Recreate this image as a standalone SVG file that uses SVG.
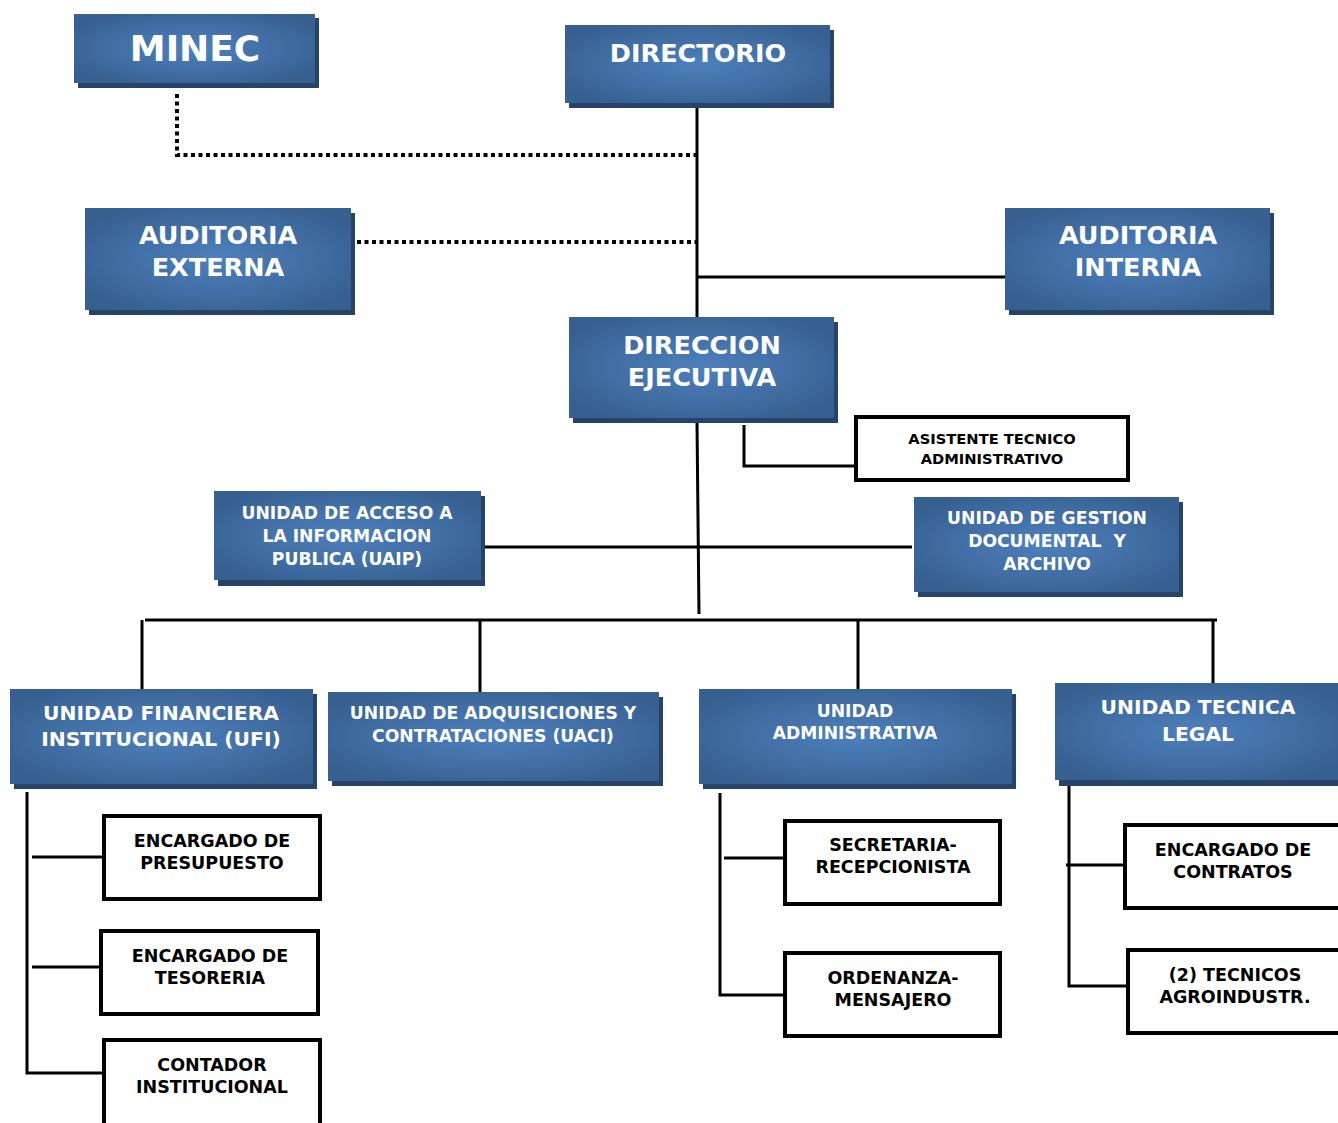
<svg xmlns="http://www.w3.org/2000/svg" width="1338" height="1123" viewBox="0 0 1338 1123">
<defs>
<radialGradient id="bg" cx="0.5" cy="0.5" r="0.6">
<stop offset="0" stop-color="#4e80bc"/>
<stop offset="0.7" stop-color="#3e6a9e"/>
<stop offset="1" stop-color="#375f90"/>
</radialGradient>
<style>
.sh{fill:#26436a}
.bx{fill:url(#bg)}
.wt{fill:#fff;font-family:"DejaVu Sans",Verdana,sans-serif;font-weight:bold;text-anchor:middle}
.bk{fill:#000;font-family:"DejaVu Sans",Verdana,sans-serif;font-weight:bold;text-anchor:middle}
.wb{fill:#fff;stroke:#000;stroke-width:4}
.ln{stroke:#000;stroke-width:3;fill:none}
.dt{stroke:#000;stroke-width:4;fill:none;stroke-dasharray:4 3.5}
</style>
</defs>
<rect width="1338" height="1123" fill="#fff"/>
<g id="connectors">
<path class="dt" d="M177 94 V155 H696"/>
<path class="dt" d="M357 242 H696"/>
<path class="ln" d="M697 108 V317"/>
<path class="ln" d="M697 277 H1005"/>
<path class="ln" d="M697 422 L699 614"/>
<path class="ln" d="M744 425 V466 H856"/>
<path class="ln" d="M481 547 H912"/>
<path class="ln" d="M145 620 H1217"/>
<path class="ln" d="M142 620 V689 M480 620 V692 M858 620 V689 M1213 620 V683"/>
<path class="ln" d="M27 792 V1073 H104 M32 857 H104 M32 967 H101"/>
<path class="ln" d="M720 793 V995 H790 M724 858 H785"/>
<path class="ln" d="M1069 786 V986 H1128 M1066 865 H1125"/>
</g>
<g id="minec">
<rect class="sh" x="78" y="18" width="241" height="70"/>
<rect class="bx" x="74" y="14" width="241" height="69"/>
<text class="wt" x="195" y="61" font-size="36">MINEC</text>
</g>
<g id="directorio">
<rect class="sh" x="569" y="30" width="265" height="78"/>
<rect class="bx" x="565" y="25" width="265" height="78"/>
<text class="wt" x="698" y="62" font-size="25.5">DIRECTORIO</text>
</g>
<g id="auditoria-externa">
<rect class="sh" x="89" y="213" width="266" height="102"/>
<rect class="bx" x="85" y="208" width="266" height="102"/>
<text class="wt" x="218" y="244" font-size="25.5">AUDITORIA</text>
<text class="wt" x="218" y="276" font-size="25.5">EXTERNA</text>
</g>
<g id="auditoria-interna">
<rect class="sh" x="1009" y="213" width="265" height="102"/>
<rect class="bx" x="1005" y="208" width="265" height="102"/>
<text class="wt" x="1138" y="244" font-size="25.5">AUDITORIA</text>
<text class="wt" x="1138" y="276" font-size="25.5">INTERNA</text>
</g>
<g id="direccion-ejecutiva">
<rect class="sh" x="573" y="322" width="265" height="101"/>
<rect class="bx" x="569" y="317" width="265" height="101"/>
<text class="wt" x="702" y="354" font-size="25.5">DIRECCION</text>
<text class="wt" x="702" y="386" font-size="25.5">EJECUTIVA</text>
</g>
<g id="asistente">
<rect class="wb" x="856" y="417" width="272" height="63" stroke-width="3.5"/>
<text class="bk" x="992" y="444" font-size="14.7">ASISTENTE TECNICO</text>
<text class="bk" x="992" y="464" font-size="14.7">ADMINISTRATIVO</text>
</g>
<g id="uaip">
<rect class="sh" x="218" y="496" width="267" height="90"/>
<rect class="bx" x="214" y="491" width="267" height="89"/>
<text class="wt" x="347" y="519" font-size="17.2">UNIDAD DE ACCESO A</text>
<text class="wt" x="347" y="542" font-size="17.2">LA INFORMACION</text>
<text class="wt" x="347" y="565" font-size="17.2">PUBLICA (UAIP)</text>
</g>
<g id="ugda">
<rect class="sh" x="918" y="502" width="265" height="95"/>
<rect class="bx" x="914" y="497" width="265" height="95"/>
<text class="wt" x="1047" y="524" font-size="17.2">UNIDAD DE GESTION</text>
<text class="wt" x="1047" y="547" font-size="17.2" xml:space="preserve">DOCUMENTAL  Y</text>
<text class="wt" x="1047" y="570" font-size="17.2">ARCHIVO</text>
</g>
<g id="ufi">
<rect class="sh" x="14" y="694" width="303" height="95"/>
<rect class="bx" x="10" y="689" width="303" height="95"/>
<text class="wt" x="161" y="720" font-size="20.3">UNIDAD FINANCIERA</text>
<text class="wt" x="161" y="746" font-size="20.3">INSTITUCIONAL (UFI)</text>
</g>
<g id="uaci">
<rect class="sh" x="332" y="697" width="331" height="89"/>
<rect class="bx" x="328" y="692" width="331" height="89"/>
<text class="wt" x="493" y="719" font-size="17.2">UNIDAD DE ADQUISICIONES Y</text>
<text class="wt" x="493" y="742" font-size="17.2">CONTRATACIONES (UACI)</text>
</g>
<g id="uadmin">
<rect class="sh" x="703" y="694" width="313" height="95"/>
<rect class="bx" x="699" y="689" width="313" height="95"/>
<text class="wt" x="855" y="717" font-size="17.2">UNIDAD</text>
<text class="wt" x="855" y="739" font-size="17.2">ADMINISTRATIVA</text>
</g>
<g id="utl">
<rect class="sh" x="1059" y="688" width="283" height="98"/>
<rect class="bx" x="1055" y="683" width="283" height="97"/>
<text class="wt" x="1198" y="714" font-size="20.3">UNIDAD TECNICA</text>
<text class="wt" x="1198" y="741" font-size="20.3">LEGAL</text>
</g>
<g id="presupuesto">
<rect class="wb" x="104" y="816" width="216" height="83"/>
<text class="bk" x="212" y="847" font-size="17.5">ENCARGADO DE</text>
<text class="bk" x="212" y="869" font-size="17.5">PRESUPUESTO</text>
</g>
<g id="tesoreria">
<rect class="wb" x="101" y="931" width="217" height="83"/>
<text class="bk" x="210" y="962" font-size="17.5">ENCARGADO DE</text>
<text class="bk" x="210" y="984" font-size="17.5">TESORERIA</text>
</g>
<g id="contador">
<rect class="wb" x="104" y="1040" width="216" height="85"/>
<text class="bk" x="212" y="1071" font-size="17.5">CONTADOR</text>
<text class="bk" x="212" y="1093" font-size="17.5">INSTITUCIONAL</text>
</g>
<g id="secretaria">
<rect class="wb" x="785" y="821" width="215" height="83"/>
<text class="bk" x="893" y="851" font-size="17.5">SECRETARIA-</text>
<text class="bk" x="893" y="873" font-size="17.5">RECEPCIONISTA</text>
</g>
<g id="ordenanza">
<rect class="wb" x="785" y="953" width="215" height="83"/>
<text class="bk" x="893" y="984" font-size="17.5">ORDENANZA-</text>
<text class="bk" x="893" y="1006" font-size="17.5">MENSAJERO</text>
</g>
<g id="contratos">
<rect class="wb" x="1125" y="825" width="220" height="83"/>
<text class="bk" x="1233" y="856" font-size="17.5">ENCARGADO DE</text>
<text class="bk" x="1233" y="878" font-size="17.5">CONTRATOS</text>
</g>
<g id="tecnicos">
<rect class="wb" x="1128" y="950" width="217" height="83"/>
<text class="bk" x="1235" y="981" font-size="17.5">(2) TECNICOS</text>
<text class="bk" x="1235" y="1003" font-size="17.5">AGROINDUSTR.</text>
</g>
</svg>
